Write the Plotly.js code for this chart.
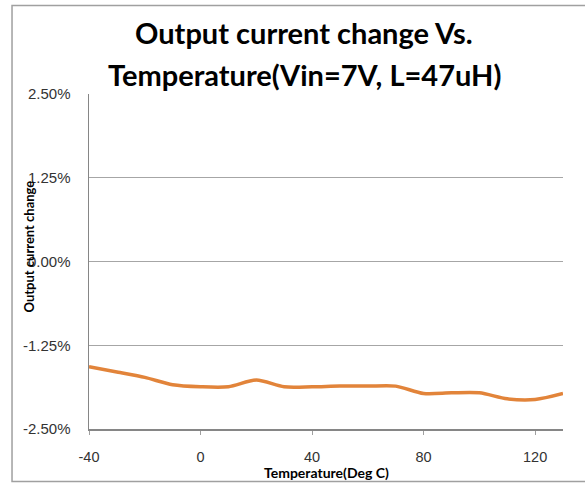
<!DOCTYPE html>
<html>
<head>
<meta charset="utf-8">
<script src="https://cdn.plot.ly/plotly-3.0.1.min.js"></script>
<style>html,body{margin:0;padding:0;background:#fff;}#chart{width:585px;height:483px;}</style>
</head>
<body>
<div id="chart"></div>
<script>
const temperature = [-40, -30, -20, -10, 0, 10, 20, 30, 40, 50, 60, 70, 80, 90, 100, 110, 120, 130];
const currentChange = [-1.57, -1.65, -1.73, -1.84, -1.87, -1.87, -1.77, -1.87, -1.87, -1.86, -1.86, -1.86, -1.97, -1.96, -1.96, -2.05, -2.06, -1.97];
const xTicks = [-40, 0, 40, 80, 120];
const yTicks = [-2.5, -1.25, 0, 1.25, 2.5];
const titleLine1 = "Output current change Vs.";
const titleLine2 = "Temperature(Vin=7V, L=47uH)";
const xTitle = "Temperature(Deg C)";
const yTitle = "Output current change";

const trace = {
  x: temperature, y: currentChange, type: 'scatter', mode: 'lines',
  line: {color: '#E2843A', width: 3.5, shape: 'spline', smoothing: 0.8},
  hoverinfo: 'skip'
};
const layout = {
  width: 585, height: 483,
  margin: {l: 89, r: 22, t: 94, b: 54},
  paper_bgcolor: '#fff', plot_bgcolor: '#fff',
  showlegend: false,
  font: {family: 'Liberation Sans, Arial, sans-serif', color: '#333', size: 14},
  xaxis: {
    range: [-40, 130], tickvals: xTicks, ticktext: xTicks.map(String),
    showgrid: false, zeroline: false,
    showline: true, linecolor: '#868686', linewidth: 2,
    ticks: 'outside', ticklen: 4, tickcolor: '#a0a0a0', tickwidth: 1,
    ticklabelstandoff: 10,
    tickfont: {size: 14.5, color: '#333'}
  },
  yaxis: {
    range: [-2.5, 2.5], tickvals: yTicks, ticktext: yTicks.map(v => v.toFixed(2) + '%'),
    showgrid: true, gridcolor: '#a6a6a6', gridwidth: 1, zeroline: false,
    showline: true, linecolor: '#868686', linewidth: 1.5,
    ticks: '', ticklabelstandoff: 14,
    tickfont: {size: 15, color: '#333'}
  },
  annotations: [
    {text: '<b>' + titleLine1 + '</b>', xref: 'paper', yref: 'paper', x: 0.4536, y: 1.1836,
     xanchor: 'center', yanchor: 'middle', showarrow: false,
     font: {family: 'Lato, Liberation Sans, sans-serif', size: 29, color: '#000'}},
    {text: '<b>' + titleLine2 + '</b>', xref: 'paper', yref: 'paper', x: 0.4536, y: 1.0582,
     xanchor: 'center', yanchor: 'middle', showarrow: false,
     font: {family: 'Lato, Liberation Sans, sans-serif', size: 29, color: '#000'}},
    {text: '<b>' + xTitle + '</b>', xref: 'paper', yref: 'paper', x: 0.5021, y: -0.1284,
     xanchor: 'center', yanchor: 'middle', showarrow: false,
     font: {family: 'Lato, Liberation Sans, sans-serif', size: 14, color: '#000'}},
    {text: '<b>' + yTitle + '</b>', xref: 'paper', yref: 'paper', x: -0.1276, y: 0.5433,
     xanchor: 'center', yanchor: 'middle', showarrow: false, textangle: -90,
     font: {family: 'Lato, Liberation Sans, sans-serif', size: 13, color: '#000'}}
  ],
  shapes: [
    {type: 'rect', xref: 'paper', yref: 'paper', x0: -0.1624, x1: 1.06, y0: -0.1567, y1: 1.2642,
     line: {color: '#a0a0a0', width: 1.5}, layer: 'below'}
  ]
};
Plotly.newPlot('chart', [trace], layout, {displayModeBar: false, staticPlot: true});
</script>
</body>
</html>
